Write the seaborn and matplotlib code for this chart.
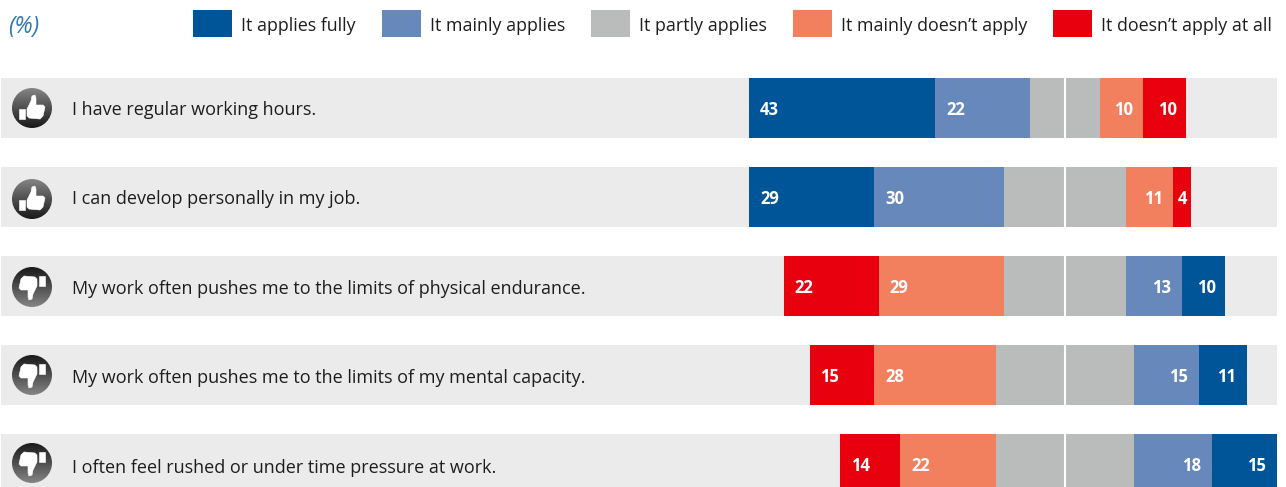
import numpy as np
import pandas as pd
import matplotlib
matplotlib.use("Agg")
import matplotlib.pyplot as plt
from matplotlib.patches import Circle, PathPatch
from matplotlib.path import Path
from matplotlib.transforms import Affine2D
import seaborn as sns

# Survey answers in percent
statements = [
    "I have regular working hours.",
    "I can develop personally in my job.",
    "My work often pushes me to the limits of physical endurance.",
    "My work often pushes me to the limits of my mental capacity.",
    "I often feel rushed or under time pressure at work.",
]
applies_fully = [43, 29, 10, 11, 15]
mainly_applies = [22, 30, 13, 15, 18]
partly_applies = [16, 28, 28, 32, 32]
mainly_not = [10, 11, 29, 28, 22]
not_at_all = [10, 4, 22, 15, 14]
positive = [True, True, False, False, False]

answer_names = ["It applies fully", "It mainly applies", "It partly applies",
                "It mainly doesn\u2019t apply", "It doesn\u2019t apply at all"]
answer_colors = ["#005498", "#6688BA", "#BABCBB", "#F2805E", "#E8000F"]

W, H = 1286, 487
UNIT_PX = 4.33     # horizontal pixels per percentage point
ROW_PX = 89        # vertical pixels per row
ZERO_PX = 1065     # position of the central axis
FIRST_ROW_PX = 108
BAR_PX = 60

# Small vertical offsets in pixels for the row furniture
label_shift = [2, 2, 3, 3, 4]
value_shift = [2, 2, 2, 2, 2]
icon_shift = [0, 2, 1, 0, -1]

sns.set_theme(style="white")
plt.rcParams["font.family"] = ["Open Sans", "DejaVu Sans"]

fig = plt.figure(figsize=(W / 100, H / 100), dpi=100)
ax = fig.add_axes([0, 0, 1, 1])


def x_of(px):
    return (px - ZERO_PX) / UNIT_PX


# Grey band behind every row
band_left = x_of(1)
band_width = 1276 / UNIT_PX
ax.barh(range(5), [band_width] * 5, height=BAR_PX / ROW_PX, left=band_left,
        color="#EBEBEB", linewidth=0, zorder=0)

# Left-hand answers stack outwards from the middle of the "partly" block,
# the order of the answers being reversed for the negative statements.
frame = pd.DataFrame({
    answer_names[0]: applies_fully,
    answer_names[1]: mainly_applies,
    answer_names[2]: partly_applies,
    answer_names[3]: mainly_not,
    answer_names[4]: not_at_all,
}, index=statements)

lefts = pd.DataFrame(0.0, index=statements, columns=answer_names)
for i, statement in enumerate(statements):
    sequence = answer_names if positive[i] else answer_names[::-1]
    values = frame.loc[statement, sequence].to_numpy(dtype=float)
    start = -(values[:2].sum() + values[2] / 2)
    lefts.loc[statement, sequence] = start + np.concatenate(([0], np.cumsum(values)[:-1]))

for name, color in zip(answer_names, answer_colors):
    sns.barplot(x=frame[name].to_numpy(), y=statements, order=statements, orient="y",
                left=lefts[name].to_numpy(), color=color, saturation=1,
                width=BAR_PX / ROW_PX, linewidth=0, label=name, zorder=2, ax=ax)

# White axis through the middle of each row
ax.vlines([0] * 5, np.arange(5) - 0.337, np.arange(5) + 0.337, color="white", lw=1.5, zorder=3)

# Value labels; the grey block carries none
for i, statement in enumerate(statements):
    for name in answer_names:
        if name == answer_names[2]:
            continue
        value = frame.loc[statement, name]
        left = lefts.loc[statement, name]
        pad = min(11, value * UNIT_PX * 0.22) / UNIT_PX
        if left < 0:
            xpos, ha = left + pad, "left"
        else:
            xpos, ha = left + value - pad, "right"
        ax.text(xpos, i + value_shift[i] / ROW_PX, str(value), color="white", fontsize=12,
                fontweight="bold", ha=ha, va="center", zorder=4)
    ax.text(x_of(72), i + label_shift[i] / ROW_PX, statement, color="#1E1E1E", fontsize=13,
            ha="left", va="center", zorder=4)

# Round thumb icons
thumb_xy = np.array([(-5, 1), (-1, -7), (0, -12), (3, -13), (4, -10), (4, -3), (11, -3),
                     (13, -1), (11, 8), (8, 11), (-3, 10), (-5, 8), (-5, 1)], dtype=float)
cuff_xy = np.array([(-13, 1), (-7, 1), (-7, 11), (-13, 11), (-13, 1)], dtype=float)
gradient = np.linspace(0, 1, 64)[:, None]

for i, up in enumerate(positive):
    local = (Affine2D().scale(1 / UNIT_PX, 1 / ROW_PX)
             .translate(x_of(32), i + icon_shift[i] / ROW_PX) + ax.transData)
    shade = np.interp(gradient, [0, 1], [0.52, 0.10] if up else [0.10, 0.52])
    image = ax.imshow(shade, cmap="gray", vmin=0, vmax=1, extent=(-20, 20, 20, -20),
                      transform=local, aspect="auto", zorder=5, interpolation="bilinear")
    disc = Circle((0, 0), 20, transform=local, facecolor="none", edgecolor="none")
    ax.add_patch(disc)
    image.set_clip_path(disc)
    sign = 1 if up else -1
    for outline in (thumb_xy, cuff_xy):
        ax.add_patch(PathPatch(Path(outline * sign), transform=local, facecolor="white",
                               edgecolor="white", lw=0.4, joinstyle="round", zorder=6))

ax.set_xlim(x_of(0), x_of(W))
ax.set_ylim((H - FIRST_ROW_PX) / ROW_PX, -FIRST_ROW_PX / ROW_PX)
ax.axis("off")

# Legend across the top
handles, labels = ax.get_legend_handles_labels()
legend_pt = 12.9
font_px = legend_pt * 100 / 72
handle_height = (27 / font_px - 0.245) / 0.65
legend = ax.legend(handles[:5], labels[:5], ncol=5, loc="upper left",
                   bbox_to_anchor=(193 / W, 1 - 10 / H), frameon=False, fontsize=legend_pt,
                   labelcolor="#1E1E1E", borderaxespad=0, borderpad=0,
                   handlelength=39 / font_px, handleheight=handle_height,
                   handletextpad=9 / font_px, columnspacing=26 / font_px)
for entry in legend.get_texts():
    entry.set_y(-2)

ax.text(x_of(8), (27 - FIRST_ROW_PX) / ROW_PX, "(%)", color="#2F75B5", fontsize=16.5,
        fontstyle="italic", ha="left", va="center")

fig.savefig("out.png", dpi=100)
